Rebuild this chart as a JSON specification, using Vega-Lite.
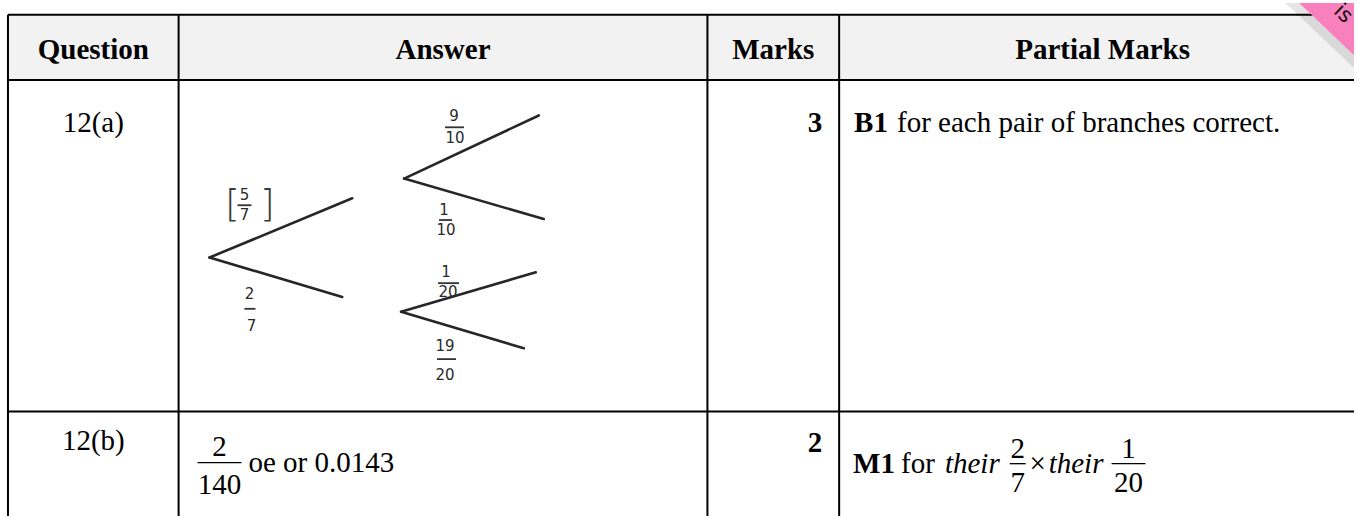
{
  "$schema": "https://vega.github.io/schema/vega-lite/v6.json",
  "width": 1357,
  "height": 517,
  "autosize": {"type": "fit", "contains": "padding"},
  "padding": 0,
  "background": "#ffffff",
  "config": {"view": {"stroke": null}},
  "datasets": {
    "headerBand": [{"x": 8, "x2": 1357, "y": 12, "y2": 78}],
    "grid": [
      {"x": 8, "y": 12, "x2": 1357, "y2": 12},
      {"x": 8, "y": 78, "x2": 1357, "y2": 78},
      {"x": 8, "y": 414, "x2": 1357, "y2": 414},
      {"x": 8, "y": 12, "x2": 8, "y2": 520},
      {"x": 179, "y": 12, "x2": 179, "y2": 520},
      {"x": 709, "y": 12, "x2": 709, "y2": 520},
      {"x": 841, "y": 12, "x2": 841, "y2": 520}
    ],
    "shadow": [
      {"x": 1288, "y": 0, "y2": 0},
      {"x": 1302, "y": 0, "y2": 13},
      {"x": 1357, "y": 53, "y2": 66}
    ],
    "pink": [
      {"x": 1302, "y": 0, "y2": 0},
      {"x": 1357, "y": 0, "y2": 53}
    ],
    "ribbonText": [{"x": 1346, "y": 11, "t": "is"}],
    "branches": [
      {"x": 210, "y": 258, "x2": 353, "y2": 198},
      {"x": 210, "y": 258, "x2": 343, "y2": 298},
      {"x": 405, "y": 178, "x2": 540, "y2": 114},
      {"x": 405, "y": 178, "x2": 545, "y2": 219},
      {"x": 402, "y": 313, "x2": 537, "y2": 273},
      {"x": 402, "y": 313, "x2": 525, "y2": 350}
    ],
    "treeBars": [
      {"x": 238, "x2": 252, "y": 205, "y2": 205},
      {"x": 245, "x2": 256, "y": 310, "y2": 310},
      {"x": 446, "x2": 465, "y": 126, "y2": 126},
      {"x": 440, "x2": 453, "y": 220, "y2": 220},
      {"x": 439, "x2": 460, "y": 284, "y2": 284},
      {"x": 438, "x2": 457, "y": 361, "y2": 361}
    ],
    "treeNums": [
      {"x": 245, "y": 195, "t": "5"},
      {"x": 245, "y": 215, "t": "7"},
      {"x": 250, "y": 295, "t": "2"},
      {"x": 252, "y": 327, "t": "7"},
      {"x": 455, "y": 115, "t": "9"},
      {"x": 456, "y": 137, "t": "10"},
      {"x": 445, "y": 210, "t": "1"},
      {"x": 447, "y": 230, "t": "10"},
      {"x": 447, "y": 273, "t": "1"},
      {"x": 449, "y": 293, "t": "20"},
      {"x": 446, "y": 348, "t": "19"},
      {"x": 446, "y": 377, "t": "20"}
    ],
    "brackets": [
      {"x": 233, "y": 205, "t": "["},
      {"x": 268, "y": 205, "t": "]"}
    ],
    "fracBars": [
      {"x": 198, "x2": 242, "y": 466, "y2": 466},
      {"x": 1012, "x2": 1028, "y": 467, "y2": 467},
      {"x": 1114, "x2": 1148, "y": 467, "y2": 467}
    ],
    "headers": [
      {"x": 93.5, "y": 57, "t": "Question"},
      {"x": 444, "y": 57, "t": "Answer"},
      {"x": 775, "y": 57, "t": "Marks"},
      {"x": 1105, "y": 57, "t": "Partial Marks"}
    ],
    "centerText": [
      {"x": 93.5, "y": 131, "t": "12(a)"},
      {"x": 93.5, "y": 453, "t": "12(b)"},
      {"x": 220, "y": 459, "t": "2"},
      {"x": 220, "y": 498, "t": "140"},
      {"x": 1020, "y": 461, "t": "2"},
      {"x": 1020, "y": 496, "t": "7"},
      {"x": 1040, "y": 476, "t": "×"},
      {"x": 1131, "y": 461, "t": "1"},
      {"x": 1131, "y": 496, "t": "20"}
    ],
    "marks": [
      {"x": 824, "y": 131, "t": "3"},
      {"x": 824, "y": 455, "t": "2"}
    ],
    "boldLeft": [
      {"x": 856, "y": 131, "t": "B1"},
      {"x": 855, "y": 476, "t": "M1"}
    ],
    "leftText": [
      {"x": 899, "y": 131, "t": "for each pair of branches correct."},
      {"x": 249, "y": 475, "t": "oe or 0.0143"},
      {"x": 903, "y": 476, "t": "for"}
    ],
    "italicText": [
      {"x": 947, "y": 476, "t": "their"},
      {"x": 1051, "y": 476, "t": "their"}
    ]
  },
  "encoding": {
    "x": {"field": "x", "type": "quantitative", "scale": {"domain": [0, 1357], "nice": false, "zero": false}, "axis": null},
    "y": {"field": "y", "type": "quantitative", "scale": {"domain": [0, 517], "nice": false, "zero": false, "reverse": true}, "axis": null}
  },
  "layer": [
    {
      "data": {"name": "headerBand"},
      "mark": {"type": "rect", "fill": "#f2f2f2"},
      "encoding": {"x2": {"field": "x2"}, "y2": {"field": "y2"}}
    },
    {
      "data": {"name": "grid"},
      "mark": {"type": "rule", "color": "#000000", "strokeWidth": 2},
      "encoding": {"x2": {"field": "x2"}, "y2": {"field": "y2"}}
    },
    {
      "data": {"name": "shadow"},
      "mark": {"type": "area", "fill": "#000000", "opacity": 0.1, "interpolate": "linear"},
      "encoding": {"y2": {"field": "y2"}}
    },
    {
      "data": {"name": "pink"},
      "mark": {"type": "area", "fill": "#f880bd", "opacity": 1, "interpolate": "linear"},
      "encoding": {"y2": {"field": "y2"}}
    },
    {
      "data": {"name": "ribbonText"},
      "mark": {"type": "text", "font": "DejaVu Sans", "fontSize": 21, "angle": 44, "align": "center", "baseline": "middle", "color": "#111111"},
      "encoding": {"text": {"field": "t"}}
    },
    {
      "data": {"name": "branches"},
      "mark": {"type": "rule", "color": "#262626", "strokeWidth": 2.6, "strokeCap": "round"},
      "encoding": {"x2": {"field": "x2"}, "y2": {"field": "y2"}}
    },
    {
      "data": {"name": "treeBars"},
      "mark": {"type": "rule", "color": "#333333", "strokeWidth": 1.8},
      "encoding": {"x2": {"field": "x2"}, "y2": {"field": "y2"}}
    },
    {
      "data": {"name": "treeNums"},
      "mark": {"type": "text", "font": "DejaVu Sans", "fontSize": 15, "align": "center", "baseline": "middle", "color": "#2a2a2a"},
      "encoding": {"text": {"field": "t"}}
    },
    {
      "data": {"name": "brackets"},
      "mark": {"type": "text", "font": "DejaVu Sans", "fontSize": 38, "fontWeight": 300, "align": "center", "baseline": "middle", "color": "#3a3a3a"},
      "encoding": {"text": {"field": "t"}}
    },
    {
      "data": {"name": "fracBars"},
      "mark": {"type": "rule", "color": "#000000", "strokeWidth": 1.3},
      "encoding": {"x2": {"field": "x2"}, "y2": {"field": "y2"}}
    },
    {
      "data": {"name": "headers"},
      "mark": {"type": "text", "font": "Liberation Serif", "fontSize": 29, "fontWeight": "bold", "align": "center", "baseline": "alphabetic", "color": "#000000"},
      "encoding": {"text": {"field": "t"}}
    },
    {
      "data": {"name": "centerText"},
      "mark": {"type": "text", "font": "Liberation Serif", "fontSize": 29, "align": "center", "baseline": "alphabetic", "color": "#000000"},
      "encoding": {"text": {"field": "t"}}
    },
    {
      "data": {"name": "marks"},
      "mark": {"type": "text", "font": "Liberation Serif", "fontSize": 29, "fontWeight": "bold", "align": "right", "baseline": "alphabetic", "color": "#000000"},
      "encoding": {"text": {"field": "t"}}
    },
    {
      "data": {"name": "boldLeft"},
      "mark": {"type": "text", "font": "Liberation Serif", "fontSize": 29, "fontWeight": "bold", "align": "left", "baseline": "alphabetic", "color": "#000000"},
      "encoding": {"text": {"field": "t"}}
    },
    {
      "data": {"name": "leftText"},
      "mark": {"type": "text", "font": "Liberation Serif", "fontSize": 29, "align": "left", "baseline": "alphabetic", "color": "#000000"},
      "encoding": {"text": {"field": "t"}}
    },
    {
      "data": {"name": "italicText"},
      "mark": {"type": "text", "font": "Liberation Serif", "fontSize": 29, "fontStyle": "italic", "align": "left", "baseline": "alphabetic", "color": "#000000"},
      "encoding": {"text": {"field": "t"}}
    }
  ]
}
